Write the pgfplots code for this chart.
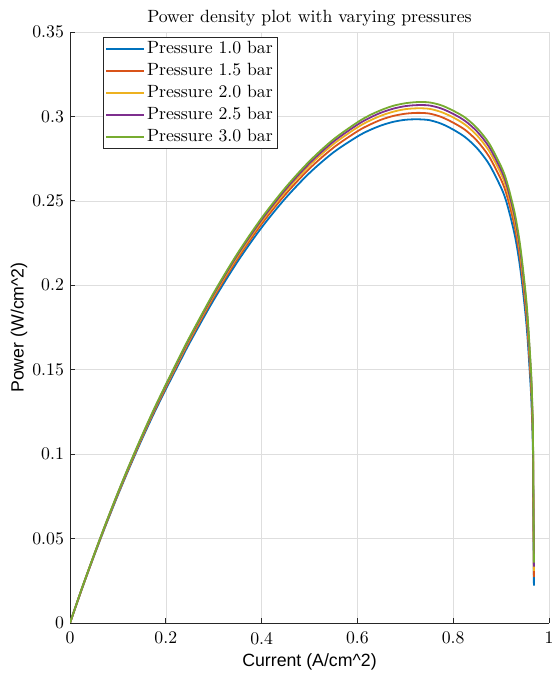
\documentclass[border=0pt]{standalone}
\usepackage{fontspec}
\setmainfont{lmroman10-regular}[Extension=.otf]
\newfontfamily\labelfont{Liberation Sans}
\usepackage{pgfplots}
\pgfplotsset{compat=1.18}
\usepackage{pgfplotstable}

\definecolor{c1}{rgb}{0,0.447,0.741}
\definecolor{c2}{rgb}{0.850,0.325,0.098}
\definecolor{c3}{rgb}{0.929,0.694,0.125}
\definecolor{c4}{rgb}{0.494,0.184,0.556}
\definecolor{c5}{rgb}{0.466,0.674,0.188}

\pgfplotstableread{
x p1 p2 p3 p4 p5
0 0 0 0 0 0
0.025 0.0203 0.0204 0.0205 0.0206 0.0207
0.05 0.0396 0.0399 0.0400 0.0402 0.0403
0.075 0.0581 0.0585 0.0588 0.0590 0.0592
0.1 0.0758 0.0763 0.0767 0.0770 0.0772
0.125 0.0926 0.0932 0.0937 0.0941 0.0944
0.15 0.1087 0.1095 0.1100 0.1104 0.1108
0.175 0.1240 0.1249 0.1256 0.1260 0.1265
0.2 0.1384 0.1394 0.1402 0.1407 0.1412
0.225 0.1523 0.1535 0.1543 0.1549 0.1555
0.25 0.1660 0.1673 0.1682 0.1689 0.1695
0.3 0.1913 0.1929 0.1940 0.1948 0.1955
0.35 0.2141 0.2159 0.2172 0.2182 0.2190
0.4 0.2342 0.2363 0.2378 0.2388 0.2398
0.45 0.2516 0.2539 0.2556 0.2568 0.2579
0.5 0.2665 0.2691 0.2710 0.2723 0.2735
0.55 0.2787 0.2815 0.2836 0.2851 0.2864
0.6 0.2881 0.2912 0.2935 0.2951 0.2965
0.625 0.2918 0.2950 0.2974 0.2991 0.3006
0.65 0.2947 0.2981 0.3005 0.3023 0.3038
0.675 0.2968 0.3003 0.3028 0.3046 0.3063
0.7 0.2980 0.3016 0.3043 0.3061 0.3078
0.725 0.2983 0.3021 0.3048 0.3067 0.3085
0.75 0.2978 0.3017 0.3045 0.3065 0.3083
0.775 0.2957 0.2997 0.3026 0.3047 0.3066
0.8 0.2922 0.2963 0.2994 0.3015 0.3034
0.825 0.2877 0.2920 0.2951 0.2973 0.2993
0.85 0.2811 0.2855 0.2887 0.2910 0.2930
0.875 0.2717 0.2762 0.2795 0.2819 0.2840
0.9 0.2578 0.2625 0.2659 0.2683 0.2704
0.91 0.2504 0.2551 0.2586 0.2610 0.2631
0.92 0.2400 0.2448 0.2482 0.2507 0.2529
0.93 0.2276 0.2324 0.2359 0.2384 0.2406
0.94 0.2100 0.2149 0.2184 0.2209 0.2232
0.95 0.1854 0.1903 0.1939 0.1964 0.1987
0.955 0.1696 0.1745 0.1782 0.1807 0.1830
0.96 0.1478 0.1528 0.1564 0.1590 0.1612
0.963 0.1330 0.1380 0.1416 0.1442 0.1465
0.965 0.1170 0.1220 0.1256 0.1282 0.1305
0.9665 0.1000 0.1050 0.1087 0.1112 0.1135
0.9675 0.0600 0.0650 0.0687 0.0712 0.0736
0.9685 0.0221 0.0271 0.0308 0.0334 0.0357
}\powertable

\begin{document}
\fontsize{17.8}{22.4}\selectfont
\begin{tikzpicture}
\useasboundingbox (-70bp,-52bp) rectangle (482bp,623bp);
\begin{axis}[
  at={(0,0)}, anchor=south west,
  width=479bp, height=591bp, scale only axis,
  xmin=0, xmax=1, ymin=0, ymax=0.35,
  xtick={0,0.2,0.4,0.6,0.8,1},
  ytick={0,0.05,0.1,0.15,0.2,0.25,0.3,0.35},
  /pgf/number format/assume math mode=true,
  xticklabel style={/pgf/number format/fixed, yshift=-3bp},
  yticklabel style={/pgf/number format/fixed, /pgf/number format/precision=2},
  axis x line*=bottom, axis y line*=left,
  tick align=inside,
  major tick length=5bp,
  axis line style={black!85, line width=0.8bp},
  tick style={black!85, line width=0.8bp},
  grid=major,
  major grid style={draw=black!13, line width=0.6bp},
  title={Power density plot with varying pressures},
  title style={at={(axis description cs:0.5,1)}, anchor=south, yshift=-6bp},
  xlabel={\labelfont Current (A/cm\^{}2)},
  ylabel={\labelfont Power (W/cm\^{}2)},
  xlabel style={at={(axis description cs:0.5,-0.066)}, anchor=center},
  ylabel style={at={(axis description cs:-0.1065,0.5)}, anchor=center},
  legend style={at={(axis description cs:0.0689,0.9915)}, anchor=north west,
    draw=black!85, line width=0.6bp, fill=white, inner sep=2bp,
    font=\fontsize{17.8}{22.4}\selectfont, row sep=3bp},
  legend cell align=left,
  legend image code/.code={\draw[#1] (0bp,0bp) -- (38bp,0bp);},
  every axis plot/.append style={line width=1.8bp, smooth, tension=0.5},
]
\addplot[c1] table[x=x, y=p1] {\powertable};
\addlegendentry{Pressure 1.0 bar}
\addplot[c2] table[x=x, y=p2] {\powertable};
\addlegendentry{Pressure 1.5 bar}
\addplot[c3] table[x=x, y=p3] {\powertable};
\addlegendentry{Pressure 2.0 bar}
\addplot[c4] table[x=x, y=p4] {\powertable};
\addlegendentry{Pressure 2.5 bar}
\addplot[c5] table[x=x, y=p5] {\powertable};
\addlegendentry{Pressure 3.0 bar}
\end{axis}
\end{tikzpicture}
\end{document}
